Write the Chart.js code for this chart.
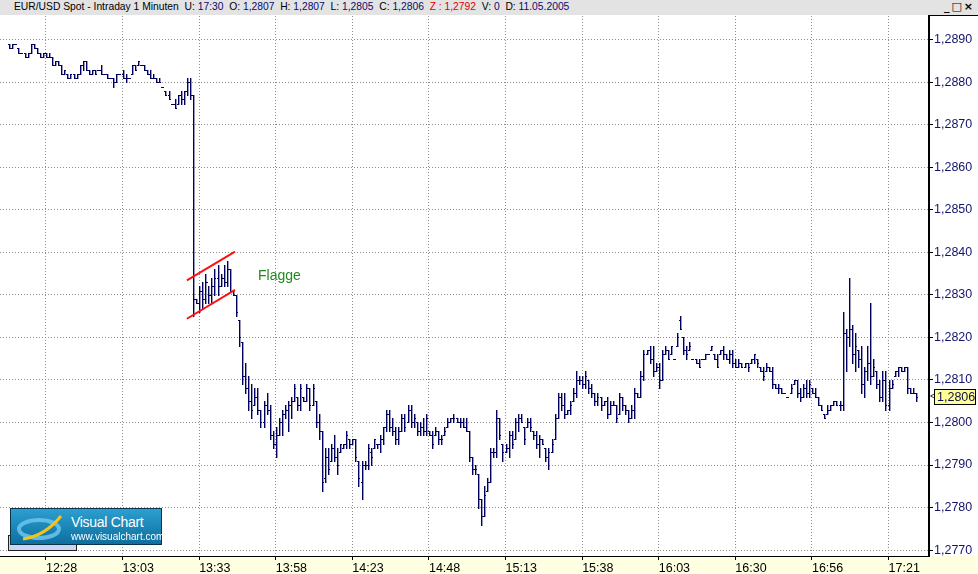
<!DOCTYPE html>
<html>
<head>
<meta charset="utf-8">
<script src="https://cdn.jsdelivr.net/npm/chart.js@4.4.1/dist/chart.umd.min.js"></script>
<style>
  body { margin: 0; background: #fff; }
  #wrap { position: relative; width: 978px; height: 574px; overflow: hidden; }
  #c { position: absolute; left: 0; top: 0; }
  #hdr { position: absolute; left: 0; top: 0; width: 978px; height: 15px; background: #e3e3e3;
         font: 10.3px 'Liberation Sans', Arial, sans-serif; color: #000; }
  #hdr .line { position: absolute; left: 14px; top: 1px; white-space: pre; }
  #hdr em { font-style: normal; color: #0a0a6e; }
  #hdr .red { color: #e00000; }
  #btns { position: absolute; right: 3px; top: 0; font: bold 11px 'DejaVu Sans', sans-serif; letter-spacing: 2px; }
  #back { position: absolute; left: 8px; top: 535px; width: 67px; height: 14px; background: #c9d5f2; border: 1px solid #222; }
  #logo { position: absolute; left: 10px; top: 508px; width: 150px; height: 35px; border: 1px solid #0b3448;
          background: linear-gradient(#2c9fd0, #0d6f9f); color: #fff; font-family: 'Liberation Sans', Arial, sans-serif; }
  #logo svg { position: absolute; left: 4px; top: 3px; }
  #logo .t1 { position: absolute; left: 60px; top: 5px; font-size: 14px; letter-spacing: -0.3px; }
  #logo .t2 { position: absolute; left: 60px; top: 22px; font-size: 10px; }
</style>
</head>
<body>
<div id="wrap">
  <canvas id="c" width="978" height="574"></canvas>
  <div id="hdr">
    <span class="line">EUR/USD Spot - Intraday 1 Minuten  U: <em>17:30</em>  O: <em>1,2807</em>  H: <em>1,2807</em>  L: <em>1,2805</em>  C: <em>1,2806</em>  <span class="red">Z : 1,2792</span>  V: <em>0</em>  D: <em>11.05.2005</em></span>
    <span id="btns">_□×</span>
  </div>
  <div id="back"></div>
  <div id="logo">
    <svg width="56" height="30" viewBox="0 0 56 30">
      <ellipse cx="24" cy="17" rx="20" ry="9" fill="none" stroke="#6cc6ee" stroke-width="4" opacity="0.85"/>
      <path d="M8 27 Q30 24 46 4" fill="none" stroke="#f4c21a" stroke-width="3"/>
    </svg>
    <div class="t1">Visual Chart</div>
    <div class="t2">www.visualchart.com</div>
  </div>
</div>
<script>
// 1 minute bars EUR/USD, 11.05.2005
var hi = [
1.2889,1.2889,1.2889,1.2888,1.2887,1.2887,1.2887,1.2889,1.2889,1.2888,
1.2887,1.2887,1.2887,1.2887,1.2886,1.2885,1.2885,1.2884,1.2883,1.2882,
1.2882,1.2882,1.2882,1.2884,1.2885,1.2885,1.2883,1.2883,1.2883,1.2883,
1.2884,1.2882,1.2882,1.2881,1.2881,1.2882,1.2882,1.2883,1.2882,1.2881,
1.2884,1.2884,1.2885,1.2884,1.2884,1.2883,1.2883,1.2882,1.2881,1.2881,
1.2879,1.2878,1.2878,1.2875,1.2876,1.2877,1.2878,1.2878,1.2881,1.2881,
1.2877,1.2829,1.2832,1.2833,1.2835,1.2832,1.2834,1.2836,1.2837,1.2835,
1.2837,1.2838,1.2836,1.2831,1.2830,1.2824,1.2819,1.2814,1.2811,1.2809,
1.2808,1.2808,1.2803,1.2805,1.2807,1.2804,1.2798,1.2799,1.2801,1.2803,
1.2804,1.2805,1.2806,1.2809,1.2806,1.2809,1.2806,1.2809,1.2808,1.2809,
1.2805,1.2802,1.2798,1.2794,1.2794,1.2795,1.2797,1.2794,1.2795,1.2795,
1.2798,1.2796,1.2796,1.2796,1.2791,1.2791,1.2791,1.2795,1.2794,1.2796,
1.2795,1.2797,1.2799,1.2803,1.2803,1.2801,1.2799,1.2799,1.2802,1.2802,
1.2804,1.2804,1.2802,1.2800,1.2800,1.2801,1.2802,1.2798,1.2798,1.2799,
1.2798,1.2797,1.2799,1.2801,1.2801,1.2802,1.2801,1.2801,1.2801,1.2801,
1.2798,1.2792,1.2790,1.2788,1.2782,1.2785,1.2787,1.2794,1.2794,1.2803,
1.2801,1.2795,1.2795,1.2798,1.2798,1.2801,1.2802,1.2802,1.2799,1.2801,
1.2801,1.2798,1.2798,1.2797,1.2796,1.2794,1.2794,1.2796,1.2802,1.2807,
1.2807,1.2807,1.2803,1.2805,1.2808,1.2812,1.2811,1.2811,1.2812,1.2810,
1.2809,1.2807,1.2807,1.2806,1.2805,1.2806,1.2805,1.2805,1.2804,1.2807,
1.2806,1.2804,1.2803,1.2804,1.2808,1.2807,1.2812,1.2817,1.2817,1.2818,
1.2818,1.2814,1.2814,1.2817,1.2818,1.2817,1.2818,1.2815,1.2821,1.2825,
1.2820,1.2818,1.2819,1.2815,1.2815,1.2815,1.2815,1.2816,1.2816,1.2818,
1.2816,1.2816,1.2817,1.2818,1.2816,1.2817,1.2817,1.2815,1.2815,1.2814,
1.2814,1.2814,1.2815,1.2816,1.2815,1.2813,1.2813,1.2814,1.2813,1.2813,
1.2809,1.2809,1.2808,1.2807,1.2806,1.2809,1.2810,1.2810,1.2808,1.2809,
1.2810,1.2810,1.2808,1.2808,1.2806,1.2804,1.2802,1.2804,1.2804,1.2805,
1.2805,1.2805,1.2826,1.2822,1.2834,1.2823,1.2821,1.2817,1.2818,1.2813,
1.2818,1.2828,1.2815,1.2812,1.2810,1.2812,1.2812,1.2810,1.2810,1.2812,
1.2813,1.2813,1.2813,1.2813,1.2808,1.2808,1.2807
];
var lo = [
1.2888,1.2888,1.2889,1.2887,1.2887,1.2886,1.2886,1.2887,1.2888,1.2887,
1.2886,1.2886,1.2886,1.2886,1.2884,1.2884,1.2884,1.2882,1.2882,1.2881,
1.2881,1.2881,1.2881,1.2882,1.2883,1.2883,1.2882,1.2882,1.2882,1.2883,
1.2882,1.2882,1.2881,1.2881,1.2879,1.2880,1.2882,1.2881,1.2880,1.2881,
1.2882,1.2883,1.2884,1.2884,1.2883,1.2882,1.2881,1.2881,1.2880,1.2880,
1.2879,1.2877,1.2876,1.2875,1.2874,1.2875,1.2875,1.2875,1.2877,1.2876,
1.2825,1.2828,1.2826,1.2827,1.2828,1.2828,1.2828,1.2830,1.2830,1.2832,
1.2832,1.2832,1.2831,1.2830,1.2825,1.2818,1.2809,1.2807,1.2803,1.2801,
1.2804,1.2802,1.2799,1.2799,1.2802,1.2796,1.2794,1.2792,1.2797,1.2797,
1.2801,1.2798,1.2801,1.2805,1.2803,1.2803,1.2805,1.2805,1.2803,1.2804,
1.2799,1.2796,1.2784,1.2786,1.2788,1.2791,1.2791,1.2788,1.2793,1.2794,
1.2794,1.2794,1.2795,1.2791,1.2785,1.2782,1.2789,1.2789,1.2790,1.2794,
1.2794,1.2793,1.2795,1.2798,1.2798,1.2797,1.2795,1.2795,1.2798,1.2798,
1.2800,1.2799,1.2799,1.2797,1.2797,1.2797,1.2797,1.2797,1.2794,1.2797,
1.2795,1.2795,1.2797,1.2799,1.2800,1.2800,1.2800,1.2799,1.2799,1.2798,
1.2791,1.2788,1.2788,1.2780,1.2776,1.2778,1.2784,1.2786,1.2792,1.2792,
1.2796,1.2791,1.2793,1.2792,1.2794,1.2796,1.2798,1.2800,1.2795,1.2799,
1.2798,1.2796,1.2794,1.2792,1.2795,1.2791,1.2789,1.2793,1.2796,1.2801,
1.2803,1.2801,1.2802,1.2802,1.2805,1.2806,1.2809,1.2808,1.2808,1.2807,
1.2806,1.2804,1.2804,1.2803,1.2804,1.2801,1.2802,1.2804,1.2800,1.2802,
1.2803,1.2802,1.2800,1.2801,1.2801,1.2806,1.2806,1.2810,1.2816,1.2814,
1.2811,1.2812,1.2808,1.2810,1.2816,1.2815,1.2816,1.2815,1.2818,1.2822,
1.2816,1.2815,1.2817,1.2815,1.2814,1.2813,1.2815,1.2815,1.2816,1.2817,
1.2815,1.2813,1.2816,1.2815,1.2815,1.2814,1.2813,1.2813,1.2813,1.2813,
1.2813,1.2812,1.2814,1.2814,1.2813,1.2812,1.2810,1.2812,1.2812,1.2808,
1.2808,1.2807,1.2807,1.2807,1.2806,1.2807,1.2809,1.2806,1.2805,1.2806,
1.2806,1.2806,1.2807,1.2806,1.2804,1.2803,1.2801,1.2802,1.2803,1.2804,
1.2804,1.2803,1.2803,1.2812,1.2818,1.2814,1.2812,1.2813,1.2807,1.2806,
1.2810,1.2809,1.2811,1.2808,1.2805,1.2805,1.2803,1.2803,1.2808,1.2811,
1.2811,1.2812,1.2812,1.2807,1.2807,1.2807,1.2805
];
var op = [
1.2889,1.2888,1.2889,1.2888,1.2887,1.2887,1.2886,1.2887,1.2889,1.2888,
1.2887,1.2886,1.2887,1.2886,1.2886,1.2884,1.2885,1.2884,1.2882,1.2882,
1.2881,1.2882,1.2881,1.2882,1.2884,1.2885,1.2883,1.2882,1.2883,1.2883,
1.2883,1.2882,1.2882,1.2881,1.2881,1.2880,1.2882,1.2882,1.2881,1.2881,
1.2882,1.2884,1.2884,1.2884,1.2884,1.2883,1.2882,1.2881,1.2881,1.2880,
1.2879,1.2878,1.2877,1.2875,1.2875,1.2875,1.2877,1.2876,1.2878,1.2880,
1.2877,1.2829,1.2828,1.2831,1.2829,1.2833,1.2830,1.2832,1.2834,1.2832,
1.2834,1.2833,1.2836,1.2831,1.2830,1.2824,1.2819,1.2811,1.2808,1.2805,
1.2804,1.2806,1.2803,1.2800,1.2804,1.2803,1.2797,1.2795,1.2797,1.2800,
1.2802,1.2803,1.2804,1.2805,1.2806,1.2804,1.2806,1.2805,1.2808,1.2804,
1.2805,1.2800,1.2798,1.2787,1.2792,1.2791,1.2794,1.2792,1.2793,1.2794,
1.2795,1.2796,1.2795,1.2796,1.2791,1.2786,1.2790,1.2790,1.2793,1.2794,
1.2795,1.2795,1.2796,1.2799,1.2802,1.2799,1.2798,1.2796,1.2798,1.2801,
1.2800,1.2803,1.2800,1.2800,1.2798,1.2799,1.2798,1.2798,1.2797,1.2797,
1.2798,1.2796,1.2797,1.2799,1.2800,1.2801,1.2801,1.2800,1.2800,1.2799,
1.2798,1.2792,1.2789,1.2788,1.2782,1.2778,1.2784,1.2786,1.2793,1.2793,
1.2801,1.2795,1.2793,1.2794,1.2797,1.2796,1.2800,1.2801,1.2799,1.2799,
1.2800,1.2798,1.2797,1.2795,1.2796,1.2794,1.2792,1.2793,1.2796,1.2801,
1.2806,1.2804,1.2802,1.2803,1.2805,1.2807,1.2810,1.2810,1.2809,1.2810,
1.2808,1.2807,1.2805,1.2806,1.2804,1.2805,1.2802,1.2804,1.2804,1.2802,
1.2806,1.2804,1.2803,1.2801,1.2803,1.2807,1.2806,1.2811,1.2816,1.2817,
1.2815,1.2812,1.2813,1.2810,1.2816,1.2817,1.2816,1.2815,1.2818,1.2824,
1.2820,1.2817,1.2817,1.2815,1.2815,1.2814,1.2815,1.2815,1.2816,1.2817,
1.2816,1.2815,1.2816,1.2817,1.2816,1.2815,1.2816,1.2814,1.2813,1.2814,
1.2813,1.2814,1.2814,1.2815,1.2815,1.2813,1.2812,1.2812,1.2813,1.2812,
1.2809,1.2808,1.2808,1.2807,1.2806,1.2807,1.2809,1.2810,1.2807,1.2806,
1.2808,1.2807,1.2808,1.2807,1.2806,1.2804,1.2802,1.2802,1.2803,1.2804,
1.2805,1.2804,1.2804,1.2821,1.2820,1.2822,1.2816,1.2817,1.2815,1.2809,
1.2812,1.2814,1.2811,1.2812,1.2809,1.2806,1.2810,1.2804,1.2808,1.2811,
1.2812,1.2813,1.2812,1.2813,1.2808,1.2807,1.2807
];
var cl = [
1.2888,1.2889,1.2889,1.2887,1.2887,1.2886,1.2887,1.2889,1.2888,1.2887,
1.2886,1.2887,1.2886,1.2886,1.2884,1.2885,1.2884,1.2882,1.2883,1.2881,
1.2882,1.2881,1.2882,1.2884,1.2885,1.2883,1.2882,1.2883,1.2882,1.2883,
1.2882,1.2882,1.2881,1.2881,1.2880,1.2882,1.2882,1.2881,1.2881,1.2881,
1.2884,1.2883,1.2885,1.2884,1.2883,1.2882,1.2881,1.2881,1.2880,1.2880,
1.2879,1.2877,1.2876,1.2875,1.2874,1.2877,1.2876,1.2878,1.2880,1.2877,
1.2829,1.2828,1.2831,1.2829,1.2833,1.2830,1.2832,1.2834,1.2832,1.2834,
1.2833,1.2836,1.2831,1.2830,1.2826,1.2820,1.2811,1.2808,1.2805,1.2803,
1.2806,1.2803,1.2800,1.2804,1.2803,1.2797,1.2795,1.2797,1.2800,1.2802,
1.2803,1.2804,1.2805,1.2808,1.2804,1.2808,1.2805,1.2808,1.2804,1.2808,
1.2800,1.2798,1.2786,1.2792,1.2789,1.2794,1.2792,1.2790,1.2795,1.2795,
1.2797,1.2795,1.2796,1.2792,1.2787,1.2790,1.2790,1.2794,1.2792,1.2796,
1.2795,1.2796,1.2799,1.2802,1.2799,1.2798,1.2796,1.2798,1.2801,1.2799,
1.2803,1.2800,1.2801,1.2798,1.2799,1.2798,1.2801,1.2797,1.2795,1.2798,
1.2796,1.2796,1.2798,1.2800,1.2801,1.2801,1.2800,1.2800,1.2799,1.2798,
1.2792,1.2789,1.2789,1.2782,1.2778,1.2783,1.2786,1.2793,1.2793,1.2801,
1.2797,1.2793,1.2794,1.2797,1.2795,1.2800,1.2801,1.2800,1.2796,1.2800,
1.2799,1.2797,1.2795,1.2796,1.2795,1.2792,1.2793,1.2795,1.2801,1.2806,
1.2804,1.2802,1.2803,1.2804,1.2807,1.2810,1.2810,1.2809,1.2811,1.2808,
1.2807,1.2805,1.2806,1.2804,1.2805,1.2802,1.2804,1.2804,1.2801,1.2806,
1.2804,1.2803,1.2801,1.2803,1.2807,1.2806,1.2811,1.2816,1.2817,1.2815,
1.2812,1.2813,1.2810,1.2816,1.2817,1.2815,1.2818,1.2815,1.2820,1.2822,
1.2817,1.2816,1.2818,1.2815,1.2814,1.2813,1.2815,1.2816,1.2816,1.2818,
1.2815,1.2813,1.2817,1.2816,1.2815,1.2816,1.2814,1.2813,1.2814,1.2813,
1.2814,1.2813,1.2815,1.2816,1.2814,1.2812,1.2811,1.2813,1.2812,1.2809,
1.2808,1.2808,1.2807,1.2807,1.2806,1.2808,1.2810,1.2807,1.2806,1.2808,
1.2807,1.2809,1.2807,1.2806,1.2804,1.2803,1.2801,1.2803,1.2804,1.2805,
1.2804,1.2804,1.2821,1.2820,1.2822,1.2816,1.2818,1.2815,1.2809,1.2812,
1.2814,1.2811,1.2813,1.2809,1.2806,1.2810,1.2804,1.2808,1.2809,1.2812,
1.2813,1.2812,1.2813,1.2808,1.2807,1.2807,1.2806
];

// time axis: bar index of each label
var tickIdx = [12, 37, 62, 87, 112, 137, 162, 187, 212, 237, 262, 287];
var tickLabels = ["12:28", "13:03", "13:33", "13:58", "14:23", "14:48", "15:13", "15:38", "16:03", "16:30", "16:56", "17:21"];
var yTicks = [1.2770, 1.2780, 1.2790, 1.2800, 1.2810, 1.2820, 1.2830, 1.2840, 1.2850, 1.2860, 1.2870, 1.2880, 1.2890];
var yTickLabels = ["1,2770", "1,2780", "1,2790", "1,2800", "1,2810", "1,2820", "1,2830", "1,2840", "1,2850", "1,2860", "1,2870", "1,2880", "1,2890"];

// the drawn flag (bar index, price)
var flagX = [58.0, 73.7];
var flagUpper = [1.28334, 1.28402];
var flagLower = [1.28244, 1.28312];

var barColor = "#00005e";
var font = "'Liberation Sans', Arial, sans-serif";

// ohlc bars: the bar element gives x and the high/low pixels, ticks come from the y scale
class OhlcController extends Chart.BarController {
  draw() {
    const meta = this._cachedMeta;
    const ctx = this.chart.ctx;
    const ys = meta.vScale;
    const ds = this.getDataset();
    ctx.save();
    ctx.fillStyle = ds.barColor;
    meta.data.forEach(function (el, i) {
      const x = Math.round(el.x);
      const t = Math.round(Math.min(el.y, el.base));
      const b = Math.round(Math.max(el.y, el.base));
      ctx.globalAlpha = 1;
      ctx.fillRect(x, t, 1, b - t + 1);
      ctx.fillRect(x - 1, Math.round(ys.getPixelForValue(ds.open[i])), 1, 1);
      ctx.fillRect(x + 1, Math.round(ys.getPixelForValue(ds.close[i])), 1, 1);
      // a little extra weight, the source lines are about 1.5 px
      ctx.globalAlpha = 0.4;
      ctx.fillRect(x + 1, t, 1, b - t + 1);
    });
    ctx.restore();
  }
}
OhlcController.id = "ohlc";
OhlcController.defaults = Chart.BarController.defaults;
OhlcController.overrides = Chart.BarController.overrides;
Chart.register(OhlcController);

var background = {
  id: "background",
  beforeDraw(chart) {
    const ctx = chart.ctx, a = chart.chartArea;
    ctx.save();
    ctx.fillStyle = "#fff";
    ctx.fillRect(0, 0, chart.width, chart.height);
    ctx.fillStyle = "#ffffe1";
    ctx.fillRect(0, a.bottom, chart.width, chart.height - a.bottom);
    ctx.restore();
  },
  afterDraw(chart) {
    const ctx = chart.ctx, a = chart.chartArea, ys = chart.scales.y, xs = chart.scales.x;
    ctx.save();
    // top edge of the price scale box
    ctx.fillStyle = "#000";
    ctx.fillRect(a.right, a.top - 1, chart.width - a.right, 1);
    // Flagge label
    ctx.fillStyle = "#1f8a1f";
    ctx.font = "14px " + font;
    ctx.textBaseline = "middle";
    ctx.fillText("Flagge", Math.round(xs.getPixelForValue(81.2)), Math.round(ys.getPixelForValue(1.28345)));
    // last price marker
    const last = cl[cl.length - 1];
    const py = Math.round(ys.getPixelForValue(last));
    ctx.fillStyle = "#ffff99";
    ctx.fillRect(a.right + 5, py - 8, 42, 16);
    ctx.strokeStyle = "#000";
    ctx.lineWidth = 1;
    ctx.strokeRect(a.right + 5.5, py - 7.5, 41, 15);
    ctx.fillStyle = "#000";
    ctx.font = "9px " + font;
    ctx.fillText("<", a.right + 1, py);
    ctx.font = "12.5px " + font;
    ctx.fillStyle = "#10104a";
    ctx.fillText(last.toFixed(4).replace(".", ","), a.right + 8, py + 1);
    ctx.restore();
  }
};

var ohlcData = hi.map(function (h, i) { return { x: i, y: [lo[i], h] }; });

new Chart(document.getElementById("c"), {
  type: "ohlc",
  data: {
    datasets: [
      {
        type: "line",
        data: flagX.map(function (x, i) { return { x: x, y: flagUpper[i] }; }),
        borderColor: "#ff1010", borderWidth: 2, pointRadius: 0, fill: false
      },
      {
        type: "line",
        data: flagX.map(function (x, i) { return { x: x, y: flagLower[i] }; }),
        borderColor: "#ff1010", borderWidth: 2, pointRadius: 0, fill: false
      },
      {
        type: "ohlc",
        data: ohlcData,
        open: op,
        close: cl,
        barColor: barColor,
        backgroundColor: barColor
      }
    ]
  },
  options: {
    responsive: false,
    devicePixelRatio: 1,
    animation: false,
    events: [],
    layout: { padding: { top: 16, left: 0, right: 0, bottom: 0 } },
    plugins: { legend: { display: false }, tooltip: { enabled: false }, title: { display: false } },
    scales: {
      x: {
        type: "linear",
        min: -3,
        max: 300.2,
        offset: false,
        afterBuildTicks: function (s) { s.ticks = tickIdx.map(function (v) { return { value: v }; }); },
        afterFit: function (s) { s.height = 18; },
        grid: { color: "#8c8c8c", offset: false, tickLength: 4, tickColor: "#000", tickBorderDash: [] },
        border: { color: "#000", width: 1, dash: [1, 2] },
        ticks: {
          autoSkip: false, maxRotation: 0, align: "start", padding: 1,
          color: "#000", font: { family: font, size: 12.5 },
          callback: function (v, i) { return tickLabels[i]; }
        }
      },
      y: {
        type: "linear",
        position: "right",
        min: 1.27686,
        max: 1.28956,
        afterBuildTicks: function (s) { s.ticks = yTicks.map(function (v) { return { value: v }; }); },
        afterFit: function (s) { s.width = 49; },
        grid: { color: "#8c8c8c", tickLength: 4, tickColor: "#000", tickBorderDash: [] },
        border: { color: "#000", width: 2, dash: [1, 2] },
        ticks: {
          padding: 1,
          color: "#14146e", font: { family: font, size: 12.5 },
          callback: function (v, i) { return yTickLabels[i]; }
        }
      }
    }
  },
  plugins: [background]
});
</script>
</body>
</html>
